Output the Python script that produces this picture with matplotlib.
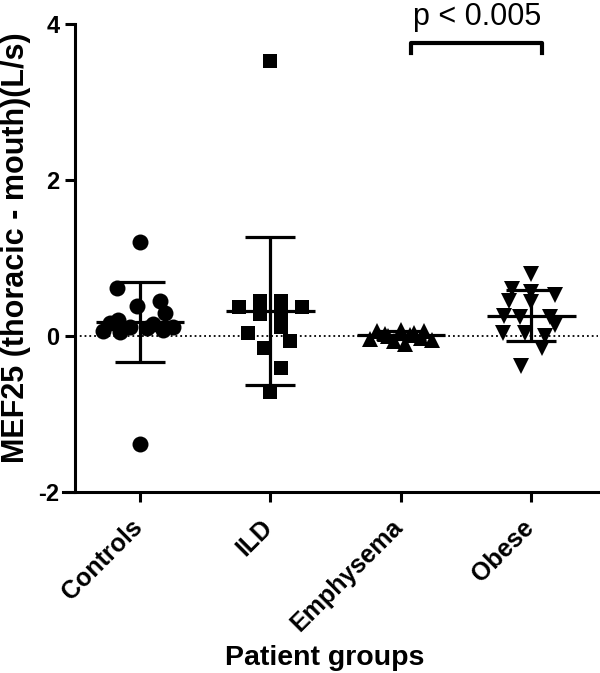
import numpy as np
import matplotlib.pyplot as plt
import matplotlib.transforms as mtransforms

plt.rcParams['font.family'] = ['Liberation Sans', 'DejaVu Sans']

groups = ['Controls', 'ILD', 'Emphysema', 'Obese']
markers = ['o', 's', '^', 'v']
ytick_vals = [-2, 0, 2, 4]
ytick_labels = ['-2', '0', '2', '4']

controls = [1.2, 0.62, 0.39, 0.45, 0.30, 0.17, 0.06, 0.05, 0.12, 0.10, 0.16, 0.08, 0.12, 0.20, -1.38]
ild = [3.52, 0.37, 0.37, 0.45, 0.45, 0.28, 0.28, 0.12, 0.04, -0.06, -0.15, -0.41, -0.72]
emphysema = [0.07, 0.08, 0.07, 0.0, 0.01, -0.04, -0.06, -0.03, -0.05, -0.10, 0.03, 0.04]
obese = [0.79, 0.60, 0.45, 0.57, 0.43, 0.53, 0.26, 0.25, 0.25, 0.14, 0.04, 0.04, 0.0, -0.16, -0.39]

# horizontal scatter of the points (in group units)
jit_controls = [0, -0.18, -0.02, 0.15, 0.19, -0.23, -0.28, -0.15, -0.08, 0.05, 0.10, 0.18, 0.25, -0.17, 0]
jit_ild = [0, -0.245, 0.24, -0.08, 0.08, -0.08, 0.08, 0.08, -0.17, 0.15, -0.05, 0.08, 0]
jit_emph = [-0.18, 0, 0.18, -0.10, 0.07, -0.24, -0.05, 0.15, 0.24, 0.03, -0.12, 0.10]
jit_obese = [0, -0.15, -0.17, 0, 0, 0.18, -0.21, -0.09, 0.14, 0.18, -0.22, -0.05, 0.10, 0.08, -0.08]

means = [0.18, 0.32, 0.01, 0.26]
sds = [0.51, 0.95, 0.05, 0.33]

data = [controls, ild, emphysema, obese]
jits = [jit_controls, jit_ild, jit_emph, jit_obese]
msizes = [11.5, 10.5, 11, 11]

fig = plt.figure(figsize=(6, 6.73), dpi=100)
ax = fig.add_axes([63/600, 1-492/673, (598-63)/600, (492-24)/673])

# spines first: moving a spine resets the ticks
ax.spines['top'].set_visible(False)
ax.spines['right'].set_visible(False)
ax.spines['left'].set_position(('data', -0.5))
ax.spines['left'].set_linewidth(2.2)
ax.spines['bottom'].set_linewidth(2.2)

ax.axhline(0, xmin=(0.09/4.1), color='black', ls=':', lw=1.3, zorder=1)

for i in range(4):
    x = i + np.array(jits[i])
    ax.plot(x, data[i], ls='none', marker=markers[i], ms=msizes[i], color='black', mew=0, zorder=3)
    ax.errorbar(i, means[i], yerr=sds[i], color='black', elinewidth=2.3, capsize=18, capthick=2.3, zorder=4)
    ax.hlines(means[i], i-0.34, i+0.34, color='black', lw=2.3, zorder=4)

# significance bracket
ax.plot([2.08, 2.08, 3.08, 3.08], [3.63, 3.756, 3.756, 3.63], color='black', lw=3, clip_on=False)
ax.text(2.58, 3.985, 'p < 0.005', ha='center', va='baseline', fontsize=22, clip_on=False)

ax.set_xlim(-0.59, 3.51)
ax.set_ylim(-2, 4)
ax.tick_params(axis='both', width=2.2, length=7.2, pad=3.6)
ax.set_yticks(ytick_vals)
ax.set_yticklabels(ytick_labels, fontsize=17, fontweight='bold')
ax.set_xticks(range(4))
ax.set_xticklabels(groups, rotation=45, ha='right', rotation_mode='anchor', fontsize=18, fontweight='bold')
shift = mtransforms.ScaledTranslation(-10/100, -8/100, fig.dpi_scale_trans)
for lab in ax.get_xticklabels():
    lab.set_transform(lab.get_transform() + shift)

ax.set_xlabel('Patient groups', fontsize=20.5, fontweight='bold', va='baseline')
ax.xaxis.set_label_coords((325-63)/535, -(665-492)/468)
ax.set_ylabel('MEF25 (thoracic - mouth)(L/s)', fontsize=22, fontweight='bold')
ax.yaxis.set_label_coords((31-63)/535, (492-248)/468)

fig.savefig('out.png', dpi=100)
